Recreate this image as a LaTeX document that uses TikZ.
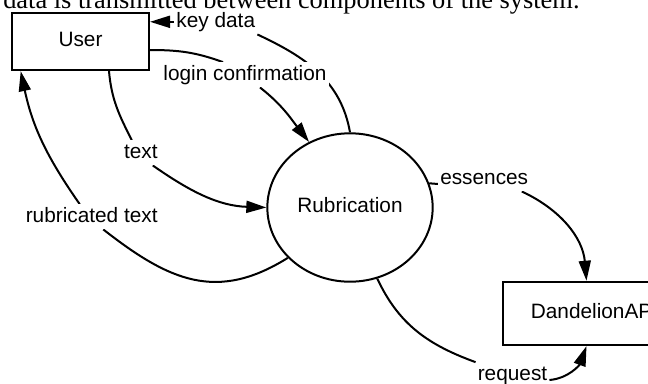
\documentclass[tikz,border=0pt]{standalone}
\usepackage{fontspec}
\setmainfont{Liberation Serif}
\setsansfont{Liberation Sans}
\usetikzlibrary{shapes.geometric,arrows.meta,backgrounds,calc}

\begin{document}
\begin{tikzpicture}[
  x=0.75pt, y=-0.75pt,
  font=\sffamily\fontsize{15.6}{18}\selectfont,
  proc/.style={draw, line width=1.5pt, inner sep=0pt, text height=11pt, text depth=4pt},
  bubble/.style={draw, ellipse, line width=1.5pt, inner sep=0pt, text height=11pt, text depth=4pt,
                 minimum width=124pt, minimum height=111.3pt},
  flowlbl/.style={fill=white, inner sep=1.5pt, text height=11.7pt, text depth=3.9pt},
  flow/.style={line width=1.5pt},
  arr/.style={flow, -{Triangle[length=15pt,width=9pt]}},
]

% ---------- frame ----------
\useasboundingbox (0,0) rectangle (648,383);
\clip (0,0) rectangle (648,383);

% =====================================================
% processes and entities
% =====================================================
\node[proc, minimum width=102.75pt, minimum height=43pt] (user) at (80.5,41.5) {User};
\node[bubble] (rubr) at (350,207.5) {Rubrication};
\node[proc, minimum width=137.25pt, minimum height=47.5pt] (api) at (594.5,313.4) {DandelionAPI};

% =====================================================
% flow labels
% =====================================================
\node[flowlbl, anchor=base] (lKey)   at (215.8,27)  {key data};
\node[flowlbl, anchor=base] (lLogin) at (245,80)    {login confirmation};
\node[flowlbl, anchor=base] (lText)  at (140.8,158) {text};
\node[flowlbl, anchor=base] (lRub)   at (91.7,222)  {rubricated text};
\node[flowlbl, anchor=base] (lEss)   at (484.2,184) {essences};
\node[flowlbl, anchor=base] (lReq)   at (512.5,380) {request};

% caption line, cut by the top edge
\node[anchor=base west, inner sep=0pt, font=\rmfamily\fontsize{19.8}{22}\selectfont] (cap) at (3,8)
  {data is transmitted between components of the system.};

% =====================================================
% data flows
% =====================================================
\begin{scope}[on background layer]
  % key data: Rubrication -> User
  \draw[flow] (rubr.north) to[out=100,in=-25] (lKey.south east);
  \draw[arr]  (lKey.west) -- (lKey.west -| user.east);

  % login confirmation: User -> Rubrication
  \draw[flow] ($(user.east)+(0,8.5)$) to[out=0,in=160] ($(lLogin.north)+(-22,0)$);
  \draw[arr]  ($(lLogin.south)+(15,0)$) to[out=-38,in=128] (rubr.122);

  % text: User -> Rubrication
  \draw[flow] ($(user.south)+(28.5,0)$) to[out=-85,in=117] ($(lText.north)+(-9,0)$);
  \draw[arr]  ($(lText.south)+(12,0)$) to[out=-35,in=178] (rubr.west);

  % rubricated text: Rubrication -> User
  \draw[flow] (rubr.219) to[out=212,in=-38,looseness=1.15] ($(lRub.south)+(11.6,0)$);
  \draw[arr]  ($(lRub.north)+(-12,0)$) to[out=125,in=-78] ($(user.south west)+(9.7,0)$);

  % essences: Rubrication -> DandelionAPI
  \draw[flow] (rubr.17) -- (lEss.base west);
  \draw[arr]  ($(lEss.south east)+(-8.6,0)$) to[out=-25,in=95] ($(api.north)+(-8,0)$);

  % request: Rubrication -> DandelionAPI
  \draw[flow] (rubr.291) to[out=-65,in=160] (lReq.north west);
  \draw[arr]  (lReq.base east) to[out=5,in=-110] ($(api.south)+(-8,0)$);
\end{scope}

\end{tikzpicture}
\end{document}
